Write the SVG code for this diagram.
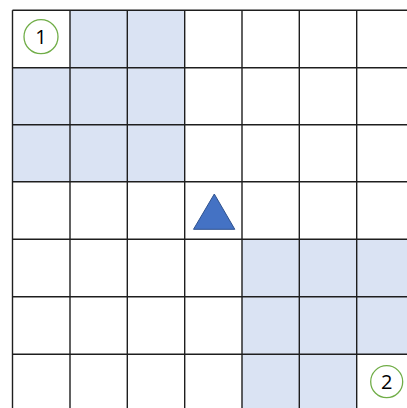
<svg xmlns="http://www.w3.org/2000/svg" width="407" height="408" viewBox="0 0 407 408">
<style>
.sh{fill:#dae3f3}
.ln{stroke:#1e1e1e;stroke-width:1.4;fill:none}
.cir{fill:#fff;stroke:#70ad47;stroke-width:1.3}
.lbl{font-family:"Open Sans","Liberation Sans",sans-serif;font-size:20px;fill:#000;text-anchor:middle}
</style>
<rect width="407" height="408" fill="#fff"/>
<g id="shaded">
<rect class="sh" x="70" y="10.3" width="114.7" height="57.4"/>
<rect class="sh" x="12.5" y="67.7" width="172.2" height="114"/>
<rect class="sh" x="242" y="239.3" width="165" height="115"/>
<rect class="sh" x="242" y="354.3" width="114.7" height="54"/>
</g>
<g id="grid">
<path class="ln" d="M12.5 10.3V408M70 10.3V408M127.3 10.3V408M184.7 10.3V408M242 10.3V408M299.3 10.3V408M356.7 10.3V408"/>
<path class="ln" d="M12.5 10.3H407M12.5 67.7H407M12.5 124.7H407M12.5 181.7H407M12.5 239.3H407M12.5 296.7H407M12.5 354.3H407"/>
</g>
<g id="triangle">
<polygon points="214.3,194 193.5,229.3 234.8,229.3" fill="#4472c4" stroke="#2f528f" stroke-width="1"/>
</g>
<g id="label1">
<circle class="cir" cx="41" cy="36.7" r="17"/>
<text class="lbl" x="41" y="43.5">1</text>
</g>
<g id="label2">
<circle class="cir" cx="386.7" cy="381.7" r="16"/>
<text class="lbl" x="386.7" y="388.5">2</text>
</g>
</svg>
